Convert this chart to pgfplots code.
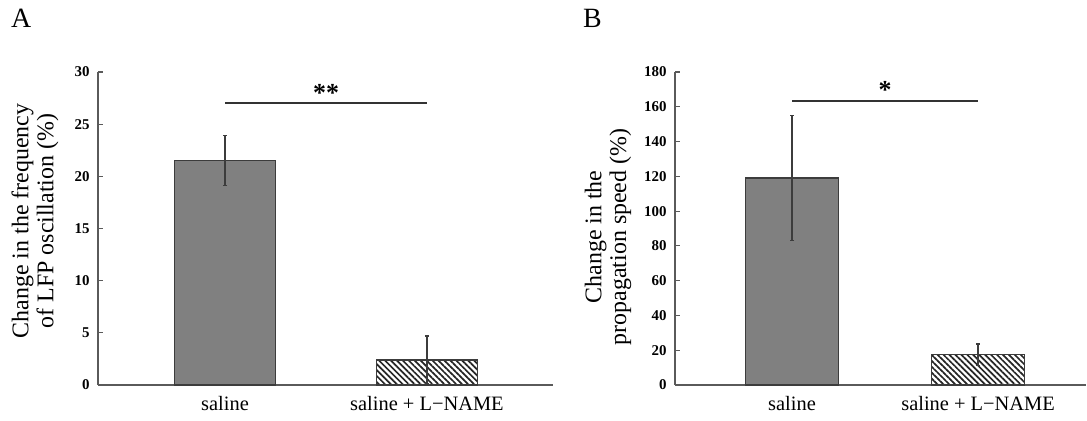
\documentclass[border=0pt]{standalone}
\usepackage{fontspec}
\setmainfont{Liberation Serif}
\usepackage{pgfplots}
\pgfplotsset{compat=1.18}
\usetikzlibrary{patterns.meta}

\definecolor{barA}{RGB}{128,128,128}
\definecolor{edge}{RGB}{60,60,60}
\definecolor{axisgray}{RGB}{90,90,90}

\pgfplotsset{
  myaxis/.style={
    scale only axis,
    height=313bp,
    axis lines=left,
    axis line style={-, draw=axisgray, line width=1.4bp},
    tick align=inside,
    major tick length=5bp,
    ytick pos=left,
    xtick={0,1},
    xticklabels={saline, saline + L−NAME},
    x tick style={draw=none},
    y tick style={draw=axisgray, line width=1.2bp},
    ymin=0,
    xmin=-0.629,
    bar width=0.5,
    /pgf/number format/assume math mode=true,
    yticklabel style={font=\fontsize{15}{16}\selectfont\bfseries, xshift=-5bp},
    xticklabel style={font=\fontsize{20.5}{23}\selectfont, yshift=-8bp},
    every axis y label/.style={rotate=90, anchor=center, align=center,
      font=\fontsize{24}{25}\selectfont},
    clip=false,
  },
  errstyle/.style={error bars/.cd, y dir=both, y explicit,
    error bar style={draw=edge, line width=1.2bp},
    error mark options={draw=edge, line width=1.2bp, mark size=2bp, rotate=90}},
  hatch/.style={pattern={Lines[angle=-45,distance=4.2bp,line width=1.7bp]}, pattern color=black!85},
}

\begin{document}
\begin{tikzpicture}
\useasboundingbox (0,0) rectangle (1087bp,421bp);
\node[anchor=base west, inner sep=0, font=\fontsize{28}{28}\selectfont] at (11bp,393bp) {A};
\node[anchor=base west, inner sep=0, font=\fontsize{28}{28}\selectfont] at (583bp,393bp) {B};

% Panel A
\begin{axis}[myaxis,
  at={(98bp,36bp)}, anchor=south west,
  width=455bp,
  xmax=1.624, ymax=30,
  ytick={0,5,10,15,20,25,30},
  ylabel={Change in the frequency\\of LFP oscillation (\%)},
  ylabel style={at={(axis description cs:-0.1385,0.524)}},
]
\addplot[ybar, bar shift=0pt, fill=barA, draw=edge, line width=1.2bp, errstyle]
  coordinates {(0,21.5) +- (0,2.4)};
\addplot[ybar, bar shift=0pt, hatch, draw=edge, line width=1.2bp, errstyle]
  coordinates {(1,2.4) +- (0,2.3)};
\addplot[draw=black!80, line width=1.6bp] coordinates {(0,27.0) (1,27.0)};
\node[anchor=base, font=\fontsize{26}{26}\selectfont\bfseries] at (axis cs:0.5,27.2) {**};
\end{axis}

% Panel B
\begin{axis}[myaxis,
  at={(675bp,36bp)}, anchor=south west,
  width=411bp,
  xmax=1.58, ymax=180,
  ytick={0,20,40,60,80,100,120,140,160,180},
  ylabel={Change in the\\propagation speed (\%)},
  ylabel style={at={(axis description cs:-0.163,0.473)}},
]
\addplot[ybar, bar shift=0pt, fill=barA, draw=edge, line width=1.2bp, errstyle]
  coordinates {(0,119) +- (0,36)};
\addplot[ybar, bar shift=0pt, hatch, draw=edge, line width=1.2bp, errstyle]
  coordinates {(1,17.4) +- (0,6.2)};
\addplot[draw=black!80, line width=1.6bp] coordinates {(0,163.3) (1,163.3)};
\node[anchor=base, font=\fontsize{26}{26}\selectfont\bfseries] at (axis cs:0.5,164.5) {*};
\end{axis}
\end{tikzpicture}
\end{document}
